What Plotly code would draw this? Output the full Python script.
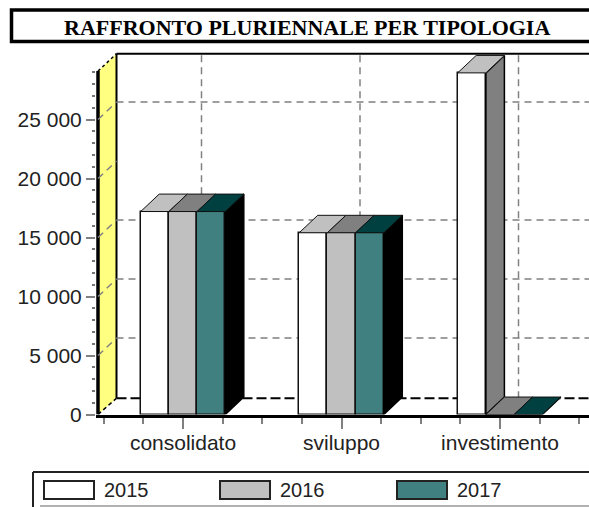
import plotly.graph_objects as go

title = "RAFFRONTO PLURIENNALE PER TIPOLOGIA"
categories = ["consolidato", "sviluppo", "investimento"]
years = ["2015", "2016", "2017"]
v2015 = [17200, 15400, 28950]
v2016 = [17200, 15400, 0]
v2017 = [17200, 15400, 0]
y_ticks = [0, 5000, 10000, 15000, 20000, 25000]
y_minor = [v for v in range(0, 29001, 1000) if v % 5000]
grid_values = [5000, 10000, 15000, 25000]

series = [v2015, v2016, v2017]
front = ["#FFFFFF", "#C0C0C0", "#408080"]
top_col = ["#C0C0C0", "#808080", "#004040"]
side_col = ["#808080", "#808080", "#000000"]
W, H = 589, 507
PX_PER_UNIT_X = 158.5
PX_PER_UNIT_Y = 59.0 / 5000
px0, py0 = 183.0, 414.5          # pixel of category 0 / value 0
left_px, top_px = 96.0, 46.0
xr = [(left_px - px0) / PX_PER_UNIT_X, (W - px0) / PX_PER_UNIT_X]
yr = [0, (py0 - top_px) / PX_PER_UNIT_Y]
DX = 18.5 / PX_PER_UNIT_X
DY = 1480
FLOOR_DY = 1380
BW = 28.2 / PX_PER_UNIT_X
wall_x = (98 - px0) / PX_PER_UNIT_X
wall_top = 29100
right_x = xr[1]
GRID_DASH = "7px,5px"


def px(x):
    return x / W


def py(y):
    return 1 - y / H


fig = go.Figure()
shapes = []
annotations = []


def dline(x0, y0, x1, y1, color="#808080", width=1.5, dash=GRID_DASH, layer="below"):
    shapes.append(dict(type="line", xref="x", yref="y", x0=x0, y0=y0, x1=x1, y1=y1,
                       line=dict(color=color, width=width, dash=dash), layer=layer))


def pline(x0, y0, x1, y1, color="#222222", width=2):
    shapes.append(dict(type="line", xref="paper", yref="paper", x0=px(x0), y0=py(y0),
                       x1=px(x1), y1=py(y1), line=dict(color=color, width=width), layer="above"))


# yellow wall
shapes.append(dict(type="path", xref="x", yref="y", layer="below",
                   path=f"M {wall_x} 0 L {wall_x + DX} {FLOOR_DY} L {wall_x + DX} {wall_top + DY} L {wall_x} {wall_top} Z",
                   fillcolor="#FFFF80", line=dict(width=0)))
# back wall frame
dline(wall_x + DX, FLOOR_DY, wall_x + DX, wall_top + DY, "#000000", 2, "solid")
dline(wall_x + DX, wall_top + DY, right_x, wall_top + DY, "#000000", 2, "solid")
dline(wall_x, wall_top, wall_x + DX, wall_top + DY, "#000000", 1.5, "3px,3px")
dline(wall_x, 0, wall_x + DX, FLOOR_DY, "#000000", 1.5, "4px,3px")
dline(wall_x + DX, FLOOR_DY, right_x, FLOOR_DY, "#000000", 2, "10px,4px")
dline(wall_x, 0, wall_x, wall_top, "#000000", 3.5, "solid")
# grid
for g in grid_values:
    dline(wall_x, g, wall_x + DX, g + DY)
    dline(wall_x + DX, g + DY, right_x, g + DY)
for g in [20000]:
    dline(wall_x, g, wall_x + DX, g + DY)
for i in range(len(categories)):
    dline(i + DX, FLOOR_DY, i + DX, wall_top + DY)

# front faces
for s, (yr_name, vals) in enumerate(zip(years, series)):
    fig.add_trace(go.Bar(x=list(range(len(categories))), y=vals, name=yr_name, width=BW,
                         offset=(s - 1.5) * BW, marker=dict(color=front[s], line=dict(color="#111111", width=1.5)),
                         showlegend=False, hoverinfo="x+y"))

# depth faces
for i in range(len(categories)):
    for s, vals in enumerate(series):
        v = vals[i]
        x0 = i + (s - 1.5) * BW
        x1 = x0 + BW
        nxt = series[s + 1][i] if s + 1 < len(series) else -1
        if nxt < v:
            fig.add_trace(go.Scatter(x=[x1, x1 + DX, x1 + DX, x1, x1], y=[0, DY, v + DY, v, 0],
                                     mode="lines", fill="toself", fillcolor=side_col[s],
                                     line=dict(color="#000000", width=1.5), showlegend=False, hoverinfo="skip"))
        fig.add_trace(go.Scatter(x=[x0, x1, x1 + DX, x0 + DX, x0], y=[v, v, v + DY, v + DY, v],
                                 mode="lines", fill="toself", fillcolor=top_col[s],
                                 line=dict(color="#111111", width=1), showlegend=False, hoverinfo="skip"))

# title box
shapes.append(dict(type="rect", xref="paper", yref="paper", x0=px(11.5), x1=px(W + 10), y0=py(41.5), y1=py(10),
                   line=dict(color="#000000", width=3.5), fillcolor="#FFFFFF", layer="below"))
annotations.append(dict(xref="paper", yref="paper", x=px(307), y=py(27.5), text=f"<b>{title}</b>", showarrow=False,
                        xanchor="center", yanchor="middle",
                        font=dict(family="Liberation Serif", size=22, color="#000000")))

# legend
pline(33, 472, W + 5, 472)
pline(33, 472, 33, 507)
pline(40, 506, W, 506, "#999999", 1.5)
swatch_left = [44, 220, 397]
for s, yn in enumerate(years):
    shapes.append(dict(type="rect", xref="paper", yref="paper", x0=px(swatch_left[s]), x1=px(swatch_left[s] + 50),
                       y0=py(499), y1=py(481), fillcolor=front[s], line=dict(color="#222222", width=2), layer="above"))
    annotations.append(dict(xref="paper", yref="paper", x=px(swatch_left[s] + 58), y=py(490), text=yn, showarrow=False,
                            xanchor="left", yanchor="middle",
                            font=dict(family="Liberation Sans", size=20, color="#222222")))

fig.update_layout(
    width=W, height=H, autosize=False,
    margin=dict(l=0, r=0, t=0, b=0, pad=0, autoexpand=False),
    paper_bgcolor="#FFFFFF", plot_bgcolor="#FFFFFF",
    bargap=0, showlegend=False, shapes=shapes, annotations=annotations,
    xaxis=dict(domain=[left_px / W, 1], range=xr, showgrid=False, zeroline=False, automargin=False,
               showline=True, linecolor="#000000", linewidth=3,
               tickmode="array", tickvals=list(range(len(categories))), ticktext=categories,
               ticks="outside", ticklen=11, tickcolor="#808080", tickwidth=1.5, ticklabelstandoff=-4,
               tickfont=dict(family="Liberation Sans", size=21, color="#222222"),
               minor=dict(dtick=0.25, tick0=-0.5, ticks="outside", ticklen=6, tickcolor="#808080", tickwidth=1.5)),
    yaxis=dict(domain=[1 - py0 / H, 1 - top_px / H], range=yr, showgrid=False, zeroline=False, showline=False,
               automargin=False,
               tickmode="array", tickvals=y_ticks, ticktext=[f"{v:,}".replace(",", " ") for v in y_ticks],
               ticks="outside", ticklen=9, tickcolor="#808080", tickwidth=1.5,
               tickfont=dict(family="Liberation Sans", size=21, color="#222222"),
               minor=dict(tickmode="array", tickvals=y_minor, ticks="outside", ticklen=3, tickcolor="#777777", tickwidth=2)),
)
fig.write_html("out.html", config=dict(displayModeBar=False),
               post_script="document.body.style.margin='0';document.documentElement.style.overflow='hidden';")
